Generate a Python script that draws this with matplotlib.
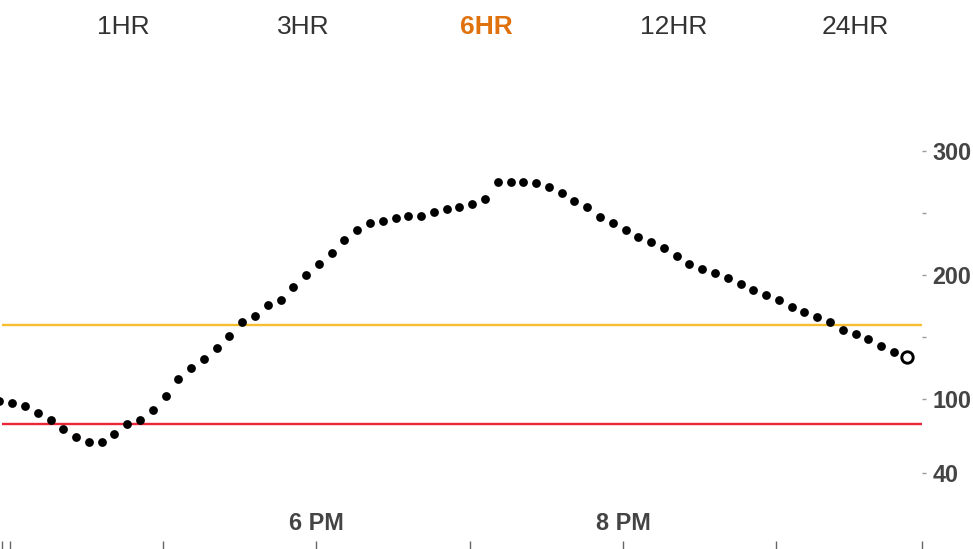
import matplotlib
matplotlib.use('Agg')
import matplotlib.pyplot as plt
import numpy as np

plt.rcParams['font.family'] = ['Liberation Sans', 'DejaVu Sans']

# Lecturas de glucosa (mg/dL), una cada 5 minutos
glucose = [98, 97, 94, 89, 83, 76, 69, 65, 65, 72,
           80, 83, 91, 102, 116, 125, 132, 141, 151, 162,
           167, 176, 180, 190, 200, 209, 218, 228, 236, 242,
           244, 246, 248, 248, 251, 253, 255, 257, 261, 275,
           275, 275, 274, 271, 266, 260, 255, 247, 242, 236,
           231, 227, 222, 215, 209, 205, 202, 198, 193, 188,
           184, 180, 174, 170, 166, 162, 156, 152, 148, 143,
           138, 134]
first_reading = 15 * 60 + 56   # minutos desde medianoche (3:56 PM)
interval = 5
window = (15 * 60 + 57, 21 * 60 + 57)

high_limit = 160
low_limit = 80

ytick_values = [40, 100, 200, 300]
ytick_minor = [150, 250]
xtick_values = [18 * 60, 20 * 60]
xtick_labels = ['6 PM', '8 PM']
xtick_minor = [window[0], 16 * 60, 17 * 60, 19 * 60, 21 * 60, window[1]]

ranges = ['1HR', '3HR', '6HR', '12HR', '24HR']
range_x = [123, 303, 486, 674, 855]
selected = '6HR'

times = first_reading + interval * np.arange(len(glucose))

W, H = 973, 549
fig = plt.figure(figsize=(W / 100, H / 100), dpi=100)
ax = fig.add_axes([2 / W, 0, 920 / W, 479 / H])
ax.set_xlim(*window)
ax.set_ylim(-21.15, 365.5)

for s in ax.spines.values():
    s.set_visible(False)

ax.axhline(high_limit, color='#F6BE2C', lw=1.7, zorder=1)
ax.axhline(low_limit, color='#EC2639', lw=1.7, zorder=1)

ax.scatter(times[:-1], glucose[:-1], s=40, color='black', linewidths=0,
           zorder=3, clip_on=False)
ax.plot(times[-1], glucose[-1], 'o', ms=8.2, mew=2.1, mec='black', mfc='white',
        zorder=4)

# eje Y a la derecha
ax.yaxis.tick_right()
ax.set_yticks(ytick_values)
ax.set_yticklabels([str(v) for v in ytick_values], fontweight='bold')
ax.set_yticks(ytick_minor, minor=True)
ax.tick_params(axis='y', which='both', direction='out', length=3, width=1,
               color='#9a9a9a', pad=4.3, labelsize=16.8, labelcolor='#444444')

# eje X con ticks hacia dentro y etiquetas encima
ax.set_xticks(xtick_values)
ax.set_xticklabels(xtick_labels, fontweight='bold')
ax.set_xticks(xtick_minor, minor=True)
ax.tick_params(axis='x', which='both', direction='in', length=6, width=1,
               color='#666666', pad=-26.5, labelsize=16.8, labelcolor='#444444')

for label, xc in zip(ranges, range_x):
    if label == selected:
        fig.text(xc / W, 1 - 26.7 / H, label, ha='center', va='center',
                 fontsize=19, fontweight='bold', color='#E0720E')
    else:
        fig.text(xc / W, 1 - 26.7 / H, label, ha='center', va='center',
                 fontsize=19, color='#333333')

fig.savefig('out.png', dpi=100)
